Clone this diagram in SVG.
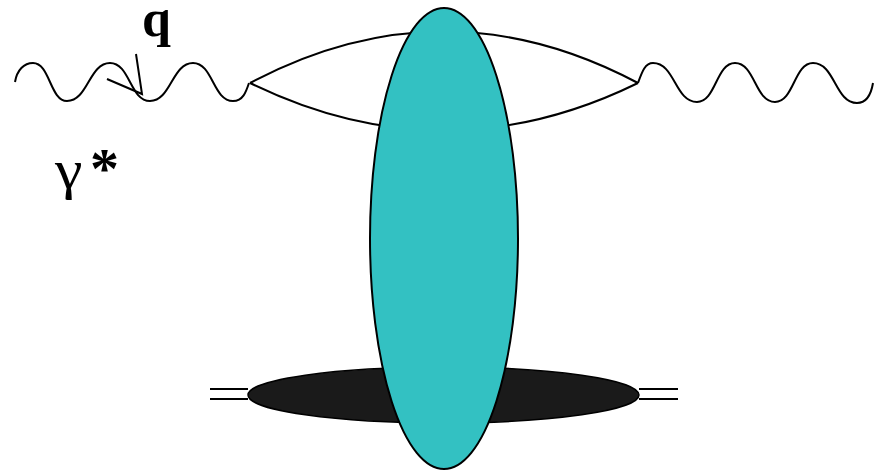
<svg xmlns="http://www.w3.org/2000/svg" width="882" height="470" viewBox="0 0 882 470">
<style>
.ln{fill:none;stroke:#000;stroke-width:2}
.lab{font-family:"Liberation Serif","Times New Roman",serif;fill:#000}
</style>
<rect width="882" height="470" fill="#fff"/>
<g id="connectors">
<path class="ln" d="M15,82 C17,70 24,63 33,63 C50,63 50,101 67,101 C88,101 89,63 110,63 C130,63 130,101 150,101 C171,101 172,63 193,63 C213,63 213,101 233,101 C243,101 246,92 249,83"/>
<path class="ln" d="M638,83 C642,72 645,63 653,63 C675,63 675,102 697,102 C716,102 716,63 735,63 C755,63 755,102 775,102 C794,102 794,63 813,63 C835,63 835,103 857,103 C866,103 871,95 873,83"/>
<path class="ln" d="M250,83 Q444,-20 638,83"/>
<path class="ln" d="M250,83 Q444,178 638,83"/>
<path class="ln" d="M107,79 L142,94 L136,54"/>
<path class="ln" d="M210,389 H248 M210,399 H248 M639,389 H678 M639,399 H678"/>
</g>
<g id="target">
<ellipse cx="443.5" cy="395" rx="195.5" ry="28" fill="#1a1a1a" stroke="#000" stroke-width="1.5"/>
</g>
<g id="blob">
<ellipse cx="444" cy="238.5" rx="74" ry="230.5" fill="#33c1c2" stroke="#000" stroke-width="2"/>
</g>
<g id="labels">
<text class="lab" x="142" y="36" font-size="52" font-weight="bold">q</text>
<text class="lab" font-size="54" transform="translate(55,188) scale(1.15,1)">γ</text>
<text class="lab" x="90" y="188" font-size="58" font-weight="bold">*</text>
</g>
</svg>
